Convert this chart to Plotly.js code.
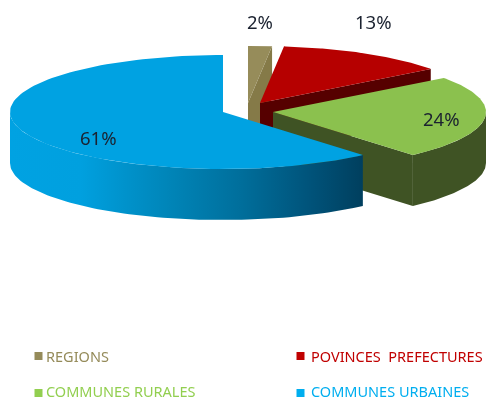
<!DOCTYPE html>
<html>
<head>
<meta charset="utf-8">
<script src="https://cdn.plot.ly/plotly-3.0.1.min.js"></script>
<style>html,body{margin:0;padding:0;background:#fff}#c{width:487px;height:401px;filter:blur(0.45px)}</style>
</head>
<body>
<div id="c"></div>
<script>
var categories = ['REGIONS', 'POVINCES  PREFECTURES', 'COMMUNES RURALES', 'COMMUNES URBAINES'];
var shares = [1.8, 13.0, 23.8, 61.4];
var topColors = ['#968C5A', '#B60000', '#8BC14E', '#00A2E2'];
var wallColors = ['#857A48', '#560000', '#3F5324', '#00A2E2'];
var legendColors = ['#958B5A', '#C00000', '#92CF50', '#00AEEF'];
var apexX = [248, 260, 273, 223];
var apexY = [103, 103, 112, 112];
var labelX = [259.5, 373, 441, 98];
var labelY = [21, 21, 118, 137];
var legendX = [38.5, 300.5, 38.5, 300.5];
var legendY = [356, 356, 393, 393];
var legendTextX = [44, 309, 44, 309];
var legendTextY = [356, 356, 391, 391];

var RX = 213, RY = 57, DEPTH = 51;
var traces = [];
function pt(i, deg, dy) {
  var a = deg * Math.PI / 180;
  return [apexX[i] + RX * Math.sin(a), apexY[i] - RY * Math.cos(a) + (dy || 0)];
}
function poly(points, color, gradient) {
  var t = {
    type: 'scatter', mode: 'lines', fill: 'toself', fillcolor: color,
    x: points.map(function (p) { return p[0]; }),
    y: points.map(function (p) { return p[1]; }),
    line: { width: 0, color: color }, hoverinfo: 'skip', showlegend: false
  };
  if (gradient) t.fillgradient = gradient;
  traces.push(t);
}
var total = shares.reduce(function (a, b) { return a + b; }, 0);
var start = 0;
shares.forEach(function (v, i) {
  var end = start + v / total * 360;
  var grad = i === 3 ? {
    type: 'horizontal', start: 10, stop: 363,
    colorscale: [[0, '#00A2E2'], [0.2, '#00A0DF'], [0.45, '#0085B8'], [0.65, '#006F9C'], [0.85, '#00537A'], [1, '#003F5E']]
  } : null;
  // radial cut wall on the clockwise end of the slice
  var e = pt(i, end);
  poly([[apexX[i], apexY[i]], e, [e[0], e[1] + DEPTH], [apexX[i], apexY[i] + DEPTH], [apexX[i], apexY[i]]], wallColors[i]);
  // curved outer wall, only where the rim faces the viewer
  var a0 = Math.max(start, 90), a1 = Math.min(end, 270);
  if (a1 > a0) {
    var upper = [], lower = [];
    for (var k = 0; k <= 80; k++) {
      var d = a0 + (a1 - a0) * k / 80;
      upper.push(pt(i, d));
      lower.unshift(pt(i, d, DEPTH));
    }
    poly(upper.concat(lower, [upper[0]]), wallColors[i], grad);
  }
  // top face
  var top = [[apexX[i], apexY[i]]];
  for (var m = 0; m <= 120; m++) top.push(pt(i, start + (end - start) * m / 120));
  top.push([apexX[i], apexY[i]]);
  poly(top, topColors[i]);
  start = end;
});

categories.forEach(function (name, i) {
  traces.push({
    type: 'scatter', mode: 'markers', x: [legendX[i]], y: [legendY[i]],
    marker: { symbol: 'square', size: 8, color: legendColors[i] },
    hoverinfo: 'skip', showlegend: false
  });
});

var annotations = shares.map(function (v, i) {
  return {
    x: labelX[i], y: labelY[i], xref: 'x', yref: 'y', showarrow: false,
    text: Math.round(v) + '%',
    font: { family: 'Noto Sans', size: 18.5, color: '#1B2230' }
  };
}).concat(categories.map(function (name, i) {
  return {
    x: legendTextX[i], y: legendTextY[i], xref: 'x', yref: 'y', showarrow: false,
    xanchor: 'left',
    text: name.replace(/ {2}/, ' \u00A0'),
    font: { family: 'Noto Sans', size: 14.5, color: legendColors[i] }
  };
}));

Plotly.newPlot('c', traces, {
  width: 487, height: 401,
  margin: { l: 0, r: 0, t: 0, b: 0 },
  paper_bgcolor: '#fff', plot_bgcolor: '#fff',
  showlegend: false,
  xaxis: { range: [0, 487], visible: false, fixedrange: true },
  yaxis: { range: [401, 0], visible: false, fixedrange: true },
  annotations: annotations
}, { displayModeBar: false, staticPlot: true });
</script>
</body>
</html>
